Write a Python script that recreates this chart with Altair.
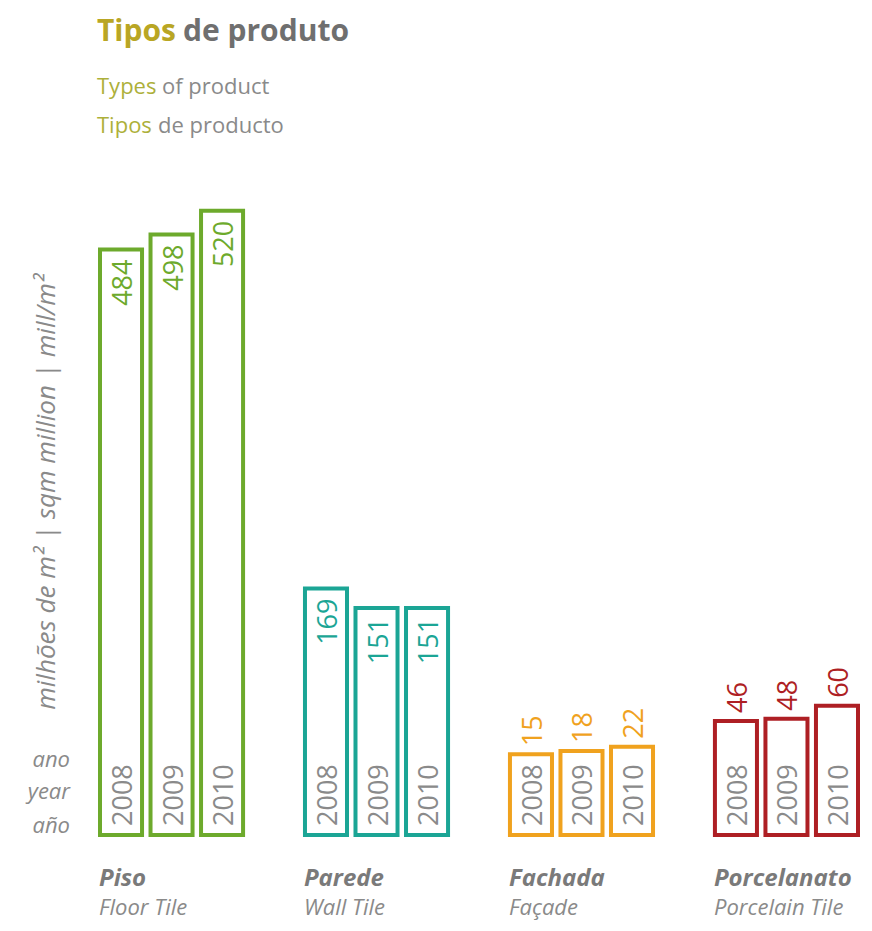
import altair as alt
import pandas as pd

products = ["Piso", "Parede", "Fachada", "Porcelanato"]
products_en = ["Floor Tile", "Wall Tile", "Façade", "Porcelain Tile"]
years = ["2008", "2009", "2010"]
piso = [484, 498, 520]
parede = [169, 151, 151]
fachada = [15, 18, 22]
porcelanato = [46, 48, 60]
label_pos = ["in", "in", "out", "out"]
colors = ["#6DAA2C", "#1BA595", "#F0A21E", "#AE1F24"]
side_labels = ["ano", "year", "año"]
axis_title = "milhões de m² | sqm million | mill/m²"

series = [piso, parede, fachada, porcelanato]
rows = []
for p, vals, pos in zip(products, series, label_pos):
    for yr, v in zip(years, vals):
        rows.append({"product": p, "year": yr, "value": v, "pos": pos})
df = pd.DataFrame(rows)
cat_df = pd.DataFrame({"product": products, "en": products_en})

FONT = "Open Sans"
GRAY = "#8a8a8a"
BASE = -60

x = alt.X("product:N", sort=products, axis=None,
          scale=alt.Scale(domain=products, paddingInner=0.302, paddingOuter=0))
xo = alt.XOffset("year:N", sort=years,
                 scale=alt.Scale(paddingInner=0.168, paddingOuter=0))
y = alt.Y("value:Q", axis=None,
          scale=alt.Scale(domain=[BASE, 530], nice=False, zero=False))
stroke = alt.Stroke("product:N", legend=None,
                    scale=alt.Scale(domain=products, range=colors))
colr = alt.Color("product:N", legend=None,
                 scale=alt.Scale(domain=products, range=colors))

base = alt.Chart(df)

bars = base.mark_bar(fill="white", strokeWidth=4).encode(
    x=x, xOffset=xo, y=y, y2=alt.datum(BASE), stroke=stroke)

val_in = base.transform_filter(alt.datum.pos == "in").mark_text(
    angle=270, align="right", baseline="middle", dx=-10, dy=3,
    fontSize=27, font=FONT).encode(x=x, xOffset=xo, y=y, text="value:Q", color=colr)

val_out = base.transform_filter(alt.datum.pos == "out").mark_text(
    angle=270, align="left", baseline="middle", dx=8, dy=3,
    fontSize=27, font=FONT).encode(x=x, xOffset=xo, y=y, text="value:Q", color=colr)

yr_lbl = base.mark_text(
    angle=270, align="left", baseline="middle", dx=9, dy=3,
    fontSize=27, font=FONT, color=GRAY).encode(
    x=x, xOffset=xo, y=alt.datum(BASE), text="year:N")

cat = alt.Chart(cat_df)
cat_pt = cat.mark_text(align="left", baseline="middle", fontSize=24,
                       font=FONT, fontStyle="italic", fontWeight="bold",
                       color="#7a7a7a", dx=-1).encode(
    x=alt.X("product:N", sort=products, bandPosition=0),
    y=alt.value(679), text="product:N")
cat_en = cat.mark_text(align="left", baseline="middle", fontSize=22,
                       font=FONT, fontStyle="italic", color=GRAY, dx=-1).encode(
    x=alt.X("product:N", sort=products, bandPosition=0),
    y=alt.value(708), text="en:N")

def txt(t, xv, yv, size, color, weight="normal", style="normal",
        align="left", angle=0):
    kw = dict(align=align, baseline="middle", fontSize=size, font=FONT,
              color=color, fontWeight=weight, fontStyle=style)
    if angle:
        kw["angle"] = angle
    return alt.Chart(pd.DataFrame({"t": [t]})).mark_text(**kw).encode(
        x=alt.value(xv), y=alt.value(yv), text="t:N")

side = [txt(s, -30, yy, 22, GRAY, style="italic", align="right")
        for s, yy in zip(side_labels, [560, 592, 626])]
ytitle = txt(axis_title, -53, 292, 26, GRAY, style="italic",
             align="center", angle=270)

t1a = txt("Tipos", -3, -168, 30, "#B9A624", weight="bold")
t1b = txt("de produto", 83, -168, 30, "#6f6f6f", weight="bold")
t2a = txt("Types", -3, -113, 22, "#ADB03A")
t2b = txt("of product", 62, -113, 22, GRAY)
t3a = txt("Tipos", -3, -74, 22, "#ADB03A")
t3b = txt("de producto", 58, -74, 22, GRAY)

chart = alt.layer(
    bars, val_in, val_out, yr_lbl, cat_pt, cat_en, *side, ytitle,
    t1a, t1b, t2a, t2b, t3a, t3b
).properties(
    width=758, height=635,
    background="white",
    autosize=alt.AutoSizeParams(type="none"),
    padding={"left": 92, "top": 192, "right": 6, "bottom": 88},
).configure_view(strokeWidth=0, stroke="transparent")

chart.save("out.html", embed_options={"renderer": "svg", "actions": False})
